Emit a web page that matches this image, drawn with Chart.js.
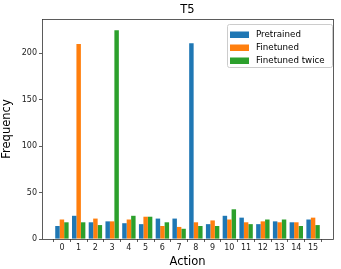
<!DOCTYPE html>
<html><head><meta charset="utf-8">
<script src="https://cdn.jsdelivr.net/npm/chart.js@4/dist/chart.umd.min.js"></script>
<style>html,body{margin:0;padding:0;background:#fff}canvas{display:block}</style>
</head><body>
<canvas id="c" width="341" height="269"></canvas>
<script>
const actions = [0,1,2,3,4,5,6,7,8,9,10,11,12,13,14,15];
const pretrained = [14,25,18,19,17,16,22,22,211,16,25,23,16,19,18,21];
const finetuned = [21,210,22,19,21,24,14,13,18,20,21,18,19,18,18,23];
const finetunedTwice = [18,18,15,225,25,24,18,11,14,14,32,16,21,21,14,15];
const seriesNames = ['Pretrained','Finetuned','Finetuned twice'];
const colors = ['#1f77b4','#ff7f0e','#2ca02c'];
const yTicks = [0,50,100,150,200];

const font = "'DejaVu Sans', sans-serif";
const toXY = arr => arr.map((v,i)=>({x:actions[i], y:v}));

const framePlugin = {
  id:'frame',
  afterDraw(chart){
    const {ctx, chartArea:a} = chart;
    ctx.save();
    ctx.strokeStyle='#333'; ctx.lineWidth=0.8;
    ctx.strokeRect(a.left+0.5, a.top+0.5, a.right-a.left, a.bottom-a.top);
    // title
    ctx.fillStyle='#000'; ctx.textAlign='center'; ctx.textBaseline='middle';
    ctx.font = "11.5px " + font;
    ctx.fillText('T5', (a.left+a.right)/2, 10);
    // legend
    const lx=227, ly=24, lw=105, lh=43;
    ctx.fillStyle='rgba(255,255,255,0.8)';
    ctx.strokeStyle='#cccccc'; ctx.lineWidth=1;
    ctx.beginPath();
    if (ctx.roundRect) ctx.roundRect(lx+0.5, ly+0.5, lw, lh, 2); else ctx.rect(lx+0.5,ly+0.5,lw,lh);
    ctx.fill(); ctx.stroke();
    ctx.font = "8.7px " + font; ctx.textAlign='left';
    seriesNames.forEach((n,i)=>{
      const y = ly + 7 + i*13;
      ctx.fillStyle = colors[i];
      ctx.fillRect(lx+3, y+0.5, 19, 6.5);
      ctx.fillStyle = '#000';
      ctx.fillText(n, lx+29, y+4);
    });
    ctx.restore();
  }
};

new Chart(document.getElementById('c'), {
  type:'bar',
  data:{
    datasets:[
      {label:seriesNames[0], data:toXY(pretrained), backgroundColor:colors[0]},
      {label:seriesNames[1], data:toXY(finetuned), backgroundColor:colors[1]},
      {label:seriesNames[2], data:toXY(finetunedTwice), backgroundColor:colors[2]}
    ]
  },
  options:{
    responsive:false, animation:false,
    layout:{padding:{top:19, right:8, left:0, bottom:0}},
    datasets:{bar:{categoryPercentage:0.8, barPercentage:1.0, borderWidth:0}},
    plugins:{legend:{display:false}, tooltip:{enabled:false}},
    scales:{
      x:{
        type:'linear', min:-1.19, max:16.19, offset:false,
        afterBuildTicks(axis){ axis.ticks = actions.map(v=>({value:v})); },
        afterFit(axis){ axis.height = 30; },
        grid:{display:true, drawOnChartArea:false, tickLength:3, color:'#333', lineWidth:0.8},
        border:{display:false},
        ticks:{color:'#222', font:{family:font, size:8}, padding:1, maxRotation:0, autoSkip:false,
               callback:v=>String(v)},
        title:{display:true, text:'Action', color:'#000', font:{family:font, size:11.5}, padding:{top:0,bottom:0}}
      },
      y:{
        min:0, max:237,
        afterBuildTicks(axis){ axis.ticks = yTicks.map(v=>({value:v})); },
        afterFit(axis){ axis.width = 42; },
        grid:{display:true, drawOnChartArea:false, tickLength:3, color:'#333', lineWidth:0.8},
        border:{display:false},
        ticks:{color:'#222', font:{family:font, size:8}, padding:2},
        title:{display:true, text:'Frequency', color:'#000', font:{family:font, size:11.5}, padding:{top:0,bottom:2}}
      }
    }
  },
  plugins:[framePlugin]
});
</script>
</body></html>
